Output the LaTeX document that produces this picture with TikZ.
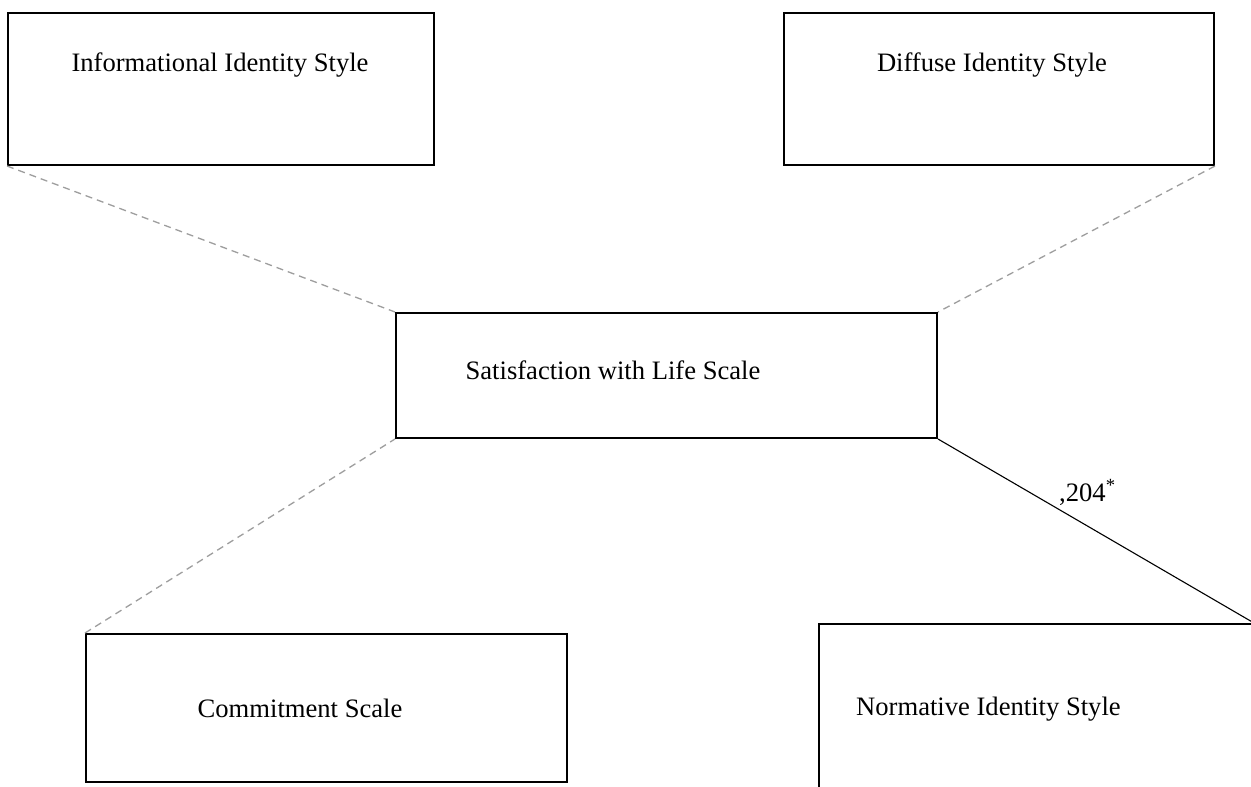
\documentclass[tikz,border=0pt]{standalone}
\usepackage{fontspec}
\setmainfont{Liberation Serif}
\begin{document}
\begin{tikzpicture}[x=1pt,y=-1pt,
  box/.style={draw=black,line width=2pt,rectangle,inner sep=0pt,anchor=north west},
  lbl/.style={inner sep=0pt,font=\fontsize{26.6}{30}\selectfont},
  dashconn/.style={draw=black!38,line width=1.3pt,dash pattern=on 7pt off 5pt},
  solidconn/.style={draw=black,line width=1.1pt}]
\path[use as bounding box,clip] (0,0) rectangle (1251,787);
\fill[white] (0,0) rectangle (1251,787);
% boxes
\node[box,minimum width=426pt,minimum height=152pt] (info) at (7,12) {};
\node[box,minimum width=430pt,minimum height=152pt] (diff) at (783,12) {};
\node[box,minimum width=541pt,minimum height=125pt] (swls) at (395,312) {};
\node[box,minimum width=481pt,minimum height=148pt] (comm) at (85,633) {};
\node[box,minimum width=434pt,minimum height=200pt] (norm) at (818,623) {};
% texts
\node[lbl] (infot) at (220,65) {Informational Identity Style};
\node[lbl] (difft) at (992,65) {Diffuse Identity Style};
\node[lbl] (swlst) at (613,370) {Satisfaction with Life Scale};
\node[lbl] (commt) at (300,708) {Commitment Scale};
\node[lbl,anchor=west] (normt) at (856,709) {Normative Identity Style};
% connectors
\draw[dashconn] (info.south west) -- (swls.north west);
\draw[dashconn] (diff.south east) -- (swls.north east);
\draw[dashconn] (comm.north west) -- (swls.south west);
\draw[solidconn] (swls.south east) -- (norm.north east);
\node[lbl,anchor=base west] (coef) at (1059,501) {,204\textsuperscript{*}};
\end{tikzpicture}
\end{document}
